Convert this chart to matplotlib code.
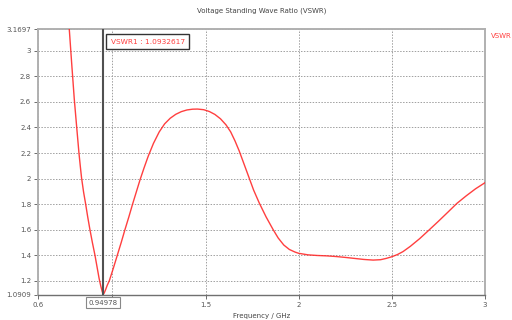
import matplotlib

matplotlib.use('Agg')
from matplotlib import pyplot as plt

# VSWR curve
freq = [0.755, 0.768, 0.781, 0.795, 0.808, 0.820, 0.827, 0.834, 0.845, 0.856,
        0.867, 0.879, 0.892, 0.906, 0.917, 0.928, 0.937, 0.944, 0.950, 0.956,
        0.963, 0.972, 0.983, 1.005, 1.026, 1.047, 1.067, 1.088, 1.108, 1.128,
        1.148, 1.170, 1.192, 1.220, 1.251, 1.280, 1.310, 1.340, 1.370, 1.400,
        1.430, 1.457, 1.490, 1.520, 1.550, 1.580, 1.610, 1.635, 1.658, 1.681,
        1.705, 1.729, 1.758, 1.788, 1.825, 1.863, 1.890, 1.920, 1.950, 1.980,
        2.000, 2.050, 2.100, 2.150, 2.200, 2.250, 2.300, 2.350, 2.400, 2.440,
        2.470, 2.500, 2.530, 2.560, 2.600, 2.650, 2.700, 2.750, 2.800, 2.850,
        2.900, 2.950, 3.000]
vswr = [3.42, 3.17, 2.90, 2.62, 2.40, 2.20, 2.10, 2.005, 1.893, 1.80,
        1.70, 1.60, 1.50, 1.40, 1.31, 1.22, 1.16, 1.12, 1.0933, 1.105,
        1.13, 1.165, 1.20, 1.30, 1.40, 1.50, 1.60, 1.70, 1.80, 1.895,
        1.99, 2.085, 2.175, 2.275, 2.365, 2.428, 2.472, 2.503, 2.524, 2.537,
        2.543, 2.544, 2.539, 2.525, 2.502, 2.468, 2.42, 2.365, 2.295, 2.215,
        2.12, 2.025, 1.91, 1.81, 1.70, 1.60, 1.535, 1.48, 1.445, 1.425,
        1.415, 1.403, 1.398, 1.395, 1.390, 1.383, 1.375, 1.367, 1.362, 1.365,
        1.375, 1.388, 1.405, 1.428, 1.47, 1.53, 1.597, 1.665, 1.735, 1.806,
        1.865, 1.92, 1.967]

marker_freq = 0.94978
marker_value = 1.0932617

x_ticks = [0.6, 1.0, 1.5, 2.0, 2.5, 3.0]
x_labels = ['0.6', '', '1.5', '2', '2.5', '3']
y_ticks = [1.0909, 1.2, 1.4, 1.6, 1.8, 2.0, 2.2, 2.4, 2.6, 2.8, 3.0, 3.1697]
y_labels = ['1.0909', '1.2', '1.4', '1.6', '1.8', '2', '2.2', '2.4', '2.6',
            '2.8', '3', '3.1697']

fig = plt.figure(figsize=(5.12, 3.2), dpi=100)
ax = fig.add_axes([0.0742, 0.079, 0.8728, 0.830])

ax.plot(freq, vswr, color='#ff2a2a', lw=1.0, alpha=0.9, zorder=3)
ax.axvline(marker_freq, color='#505050', lw=1.5, zorder=4)

ax.set_xlim(0.6, 3.0)
ax.set_ylim(1.0909, 3.1697)
ax.set_xticks(x_ticks)
ax.set_xticklabels(x_labels)
ax.set_yticks(y_ticks)
ax.set_yticklabels(y_labels)
ax.tick_params(labelsize=5, colors='#555555', length=3, width=0.6, pad=2)
ax.grid(True, color='#a0a0a0', linestyle=(0, (1.5, 1.5)), lw=0.7)

for side in ['top', 'right', 'left']:
    ax.spines[side].set_color('#b0b0b0')
    ax.spines[side].set_linewidth(1.4)
ax.spines['bottom'].set_color('#707070')
ax.spines['bottom'].set_linewidth(1.0)

ax.set_title('Voltage Standing Wave Ratio (VSWR)', fontsize=5, color='#444444', pad=12)
ax.set_xlabel('Frequency / GHz', fontsize=5, color='#444444', labelpad=4)

ax.text(0.99, 3.07, 'VSWR1 : %.7f' % marker_value, fontsize=5.3, color='#ff4040',
        va='center', ha='left', zorder=5,
        bbox=dict(boxstyle='square,pad=0.6', fc='white', ec='#333333', lw=1.0))
ax.text(marker_freq, -0.018, '%.5f' % marker_freq, transform=ax.get_xaxis_transform(),
        fontsize=5, color='#555555', va='top', ha='center', zorder=5,
        bbox=dict(boxstyle='square,pad=0.3', fc='white', ec='#888888', lw=0.8))

fig.text(0.958, 0.8875, 'VSWR', fontsize=5, color='#ff4040', va='center', ha='left')

fig.savefig('out.png', dpi=100)
